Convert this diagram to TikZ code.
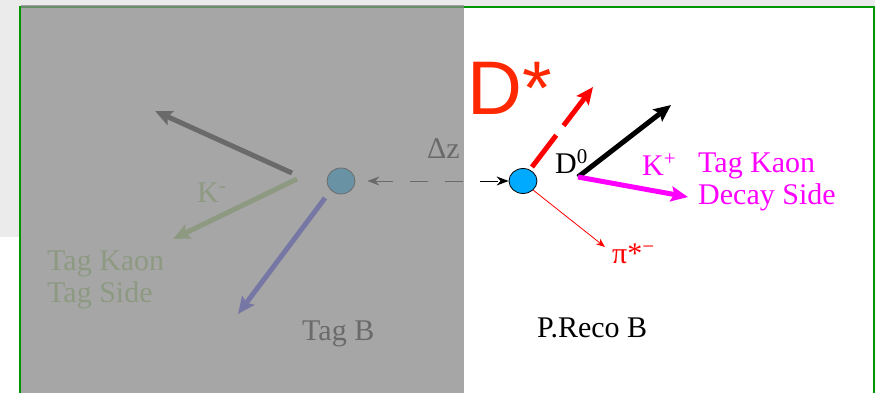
\documentclass[tikz,border=0pt]{standalone}
\usepackage{fontspec}
\setmainfont{Liberation Serif}
\newfontfamily\dstarfont{Liberation Sans}
\usetikzlibrary{arrows.meta,positioning,shapes.geometric}
\definecolor{framegreen}{RGB}{0,150,0}
\definecolor{kaongreen}{RGB}{150,205,100}
\definecolor{tagblue}{RGB}{55,55,255}
\definecolor{vtxblue}{RGB}{0,170,255}
\definecolor{dstarred}{RGB}{255,40,0}
\definecolor{trkred}{RGB}{255,0,0}
\definecolor{kaonpink}{RGB}{255,0,255}
\definecolor{fadegray}{RGB}{139,139,139}
\definecolor{bglight}{RGB}{235,235,235}
\tikzset{
  trk/.style={line width=5pt, draw=#1,
              -{Stealth[length=17pt, width=15pt, inset=3pt]}},
  thintrk/.style={line width=0.8pt, draw=#1,
              -{Stealth[length=9pt, width=7pt]}},
  vtx/.style={ellipse, draw=black, line width=0.8pt, fill=#1,
              inner sep=0pt, minimum width=28pt, minimum height=26pt},
  lbl/.style={font=\fontsize{30}{32}\selectfont, inner sep=0pt, anchor=base west},
  lbltwo/.style={font=\fontsize{30}{32}\selectfont, inner sep=0pt,
                 anchor=north west, align=left},
}

\begin{document}
\begin{tikzpicture}[x=1pt, y=-1pt]
  \useasboundingbox (0,0) rectangle (875,393);
  % page background and frame
  \fill[bglight] (0,0) rectangle (875,7);
  \fill[bglight] (0,0) rectangle (19,237);
  \draw[framegreen, line width=2pt] (19.5,393) -- (19.5,7.5) -- (874,7.5) -- (874,393);

  % vertices
  \node[vtx=vtxblue] (tagv) at (341,181) {};
  \node[vtx=vtxblue, minimum height=25pt] (recov) at (523,181) {};
  \draw[line width=1pt, dash pattern=on 18pt off 17pt, shorten <=12pt,
        {Stealth[length=12pt, width=9pt]}-{Stealth[length=12pt, width=9pt]}]
    (tagv) -- (recov);
  \node[lbl] (dz) at (427,158) {Δz};

  % tag side
  \coordinate (kbtail) at (292,173);
  \coordinate (kbtip)  at (155,111);
  \coordinate (kmtail) at (297,179);
  \coordinate (kmtip)  at (173,239);
  \coordinate (tbtail) at (325,198);
  \coordinate (tbtip)  at (238,314);
  \draw[trk=black] (kbtail) -- (kbtip);
  \draw[trk=kaongreen] (kmtail) -- (kmtip);
  \draw[trk=tagblue] (tbtail) -- (tbtip);
  \node[lbl, text=kaongreen] (kmlbl) at (197,202) {K\textsuperscript{-}};
  \node[lbltwo, text=kaongreen] (tagkaon) at (47,251) {Tag Kaon\\Tag Side};
  \node[lbl] (tagb) at (302,340) {Tag B};

  % reconstructed side
  \coordinate (dstail) at (532,167);
  \coordinate (dstip)  at (593,87);
  \coordinate (dzero)  at (578,177);
  \coordinate (kztip)  at (671,105);
  \coordinate (kptip)  at (688,197);
  \coordinate (pitip)  at (605,247);
  \draw[trk=trkred, dash pattern=on 40pt off 12pt] (dstail) -- (dstip);
  \draw[trk=black] (dzero) -- (kztip);
  \draw[trk=kaonpink] (dzero) -- (kptip);
  \draw[thintrk=trkred] (recov.south east) -- (pitip);
  \node[lbl, font=\dstarfont\fontsize{76}{80}\selectfont, text=dstarred] (dstar) at (467,114) {D*};
  \node[lbl] (dzlbl) at (555,173) {D\textsuperscript{0}};
  \node[lbl, text=kaonpink] (kplbl) at (642,175) {K\textsuperscript{+}};
  \node[lbltwo, text=kaonpink] (decaykaon) at (698,153) {Tag Kaon\\Decay Side};
  \node[lbl, text=trkred] (pilbl) at (612,263) {π*\textsuperscript{−}};
  \node[lbl] (precob) at (537,337) {P.Reco B};

  % tag side shading
  \fill[fadegray, fill opacity=0.77] (20.5,5) rectangle (463.5,393);
\end{tikzpicture}
\end{document}
